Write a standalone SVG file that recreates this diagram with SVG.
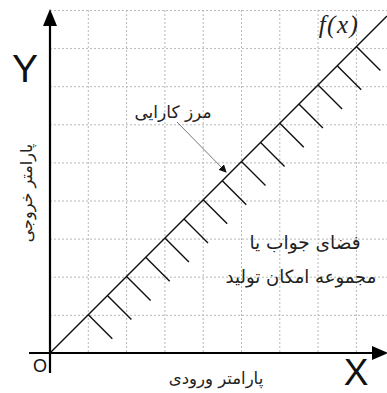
<svg xmlns="http://www.w3.org/2000/svg" width="387" height="393" viewBox="0 0 387 393">
<style>
.grid{stroke:#b8b8b8;stroke-width:1;stroke-dasharray:2,2;fill:none}
.axis{stroke:#000;stroke-width:2.2;fill:none}
.curve{stroke:#111;stroke-width:1.5;fill:none}
.hatch{stroke:#111;stroke-width:1.4;fill:none}
.fa{font-family:"DejaVu Sans",sans-serif;fill:#222}
.lat{font-family:"Liberation Sans",Arial,sans-serif;fill:#111}
</style>
<defs>
<marker id="ah" markerWidth="8" markerHeight="8" refX="7" refY="4" orient="auto" markerUnits="userSpaceOnUse">
<path d="M0,0 L8,4 L0,8 z" fill="#111"/>
</marker>
</defs>
<rect width="387" height="393" fill="#fff"/>
<g id="grid">
<path class="grid" d="M50,10.5H387M50,48.6H387M50,86.7H387M50,124.8H387M50,162.9H387M50,201H387M50,239.1H387M50,277.2H387M50,315.3H387"/>
<path class="grid" d="M88.3,10V353M126.6,10V353M164.9,10V353M203.2,10V353M241.5,10V353M279.8,10V353M318.1,10V353M356.4,10V353"/>
</g>
<g id="axes">
<line class="axis" x1="50" y1="373" x2="50" y2="22"/>
<path d="M50,9 L57,26 L43,26 z" fill="#000"/>
<line class="axis" x1="29" y1="353" x2="376" y2="353"/>
<path d="M388,353 L372,346 L372,360 z" fill="#000"/>
</g>
<g id="frontier">
<line class="curve" x1="50" y1="353" x2="387" y2="16"/>
<path class="hatch" d="M88.3,314.7l24,24M107.4,295.6l24,24M126.6,276.4l24,24M145.7,257.3l24,24M164.9,238.1l24,24M184,219l24,24M203.2,199.8l24,24M222.3,180.7l24,24M241.5,161.5l24,24M260.6,142.4l24,24M279.8,123.2l24,24M298.9,104.1l24,24M318.1,84.9l24,24M337.2,65.8l24,24M356.4,46.6l24,24"/>
</g>
<g id="connectors">
<line x1="177" y1="122" x2="226" y2="172" stroke="#555" stroke-width="0.8" marker-end="url(#ah)"/>
</g>
<g id="labels">
<text class="lat" x="25" y="82" font-size="39" text-anchor="middle">Y</text>
<text class="lat" x="356" y="385" font-size="37" text-anchor="middle">X</text>
<text class="lat" x="40" y="372" font-size="18" text-anchor="middle">O</text>
<text x="339" y="33" font-family="'Liberation Serif',serif" font-style="italic" font-size="25" letter-spacing="1.5" text-anchor="middle" fill="#222">f(x)</text>
<text class="fa" x="173" y="118" font-size="17" text-anchor="middle">مرز کارایی</text>
<text class="fa" x="216" y="384" font-size="16.5" text-anchor="middle">پارامتر ورودی</text>
<text class="fa" x="305" y="249" font-size="18.5" text-anchor="middle">فضای جواب یا</text>
<text class="fa" x="301" y="283" font-size="18" text-anchor="middle">مجموعه امکان تولید</text>
<text class="fa" font-size="16" text-anchor="middle" transform="translate(32,193) rotate(-90)">پارامتر خروجی</text>
</g>
</svg>
